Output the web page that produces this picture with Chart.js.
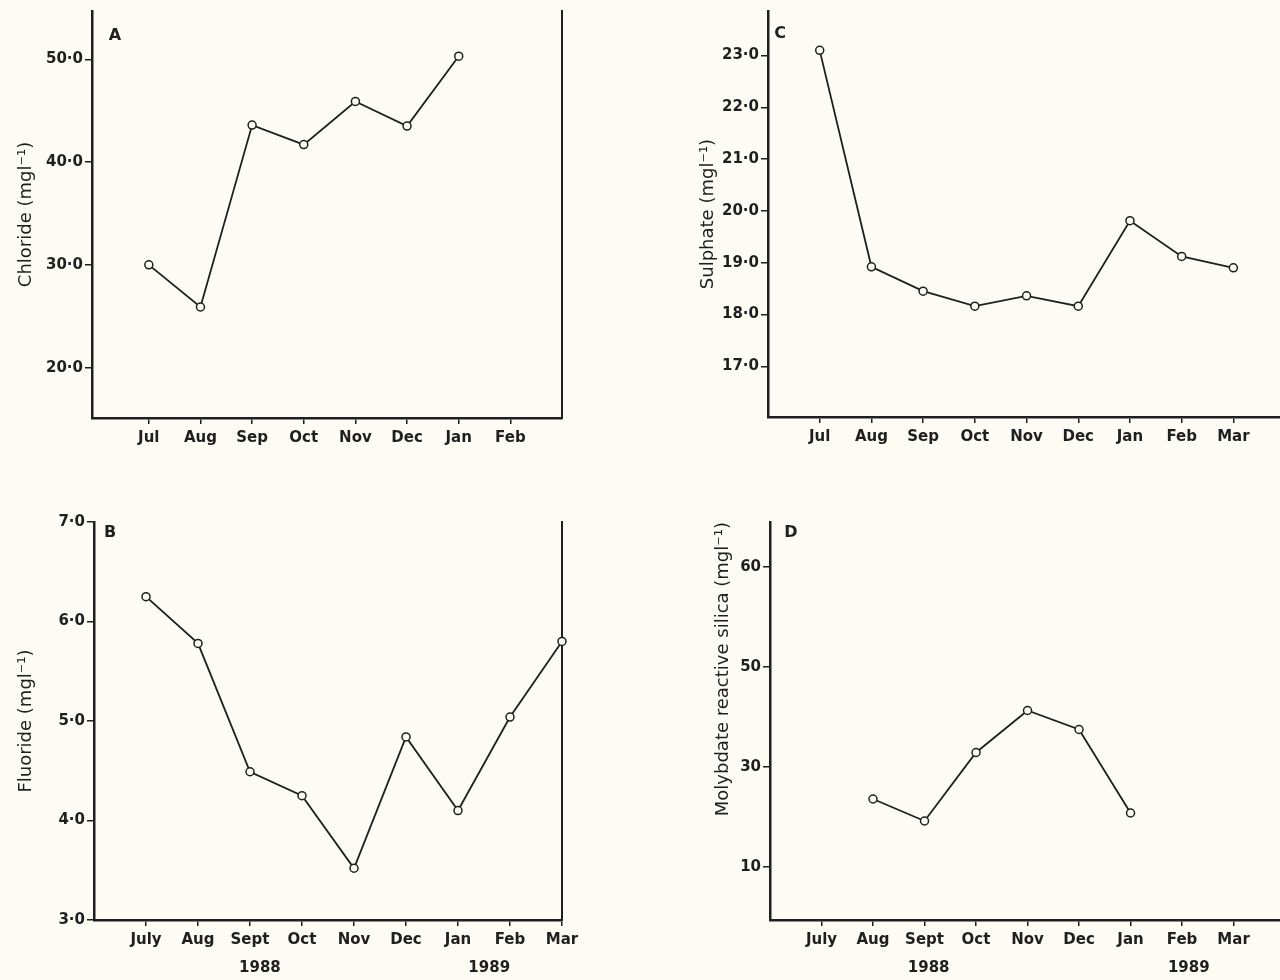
<!DOCTYPE html>
<html>
<head>
<meta charset="utf-8">
<script src="https://cdn.jsdelivr.net/npm/chart.js@4.4.1/dist/chart.umd.min.js"></script>
<style>
  html, body { margin: 0; padding: 0; background: #fcfcf5; }
  body { width: 1280px; height: 980px; position: relative; overflow: hidden; }
  canvas { position: absolute; }
</style>
</head>
<body>
<canvas id="chartA" width="620" height="480" style="left:0;top:0"></canvas>
<canvas id="chartC" width="648" height="480" style="left:640px;top:0"></canvas>
<canvas id="chartB" width="620" height="490" style="left:0;top:490px"></canvas>
<canvas id="chartD" width="648" height="490" style="left:640px;top:490px"></canvas>
<script>
// panel A - chloride
const monthsA = ['Jul', 'Aug', 'Sep', 'Oct', 'Nov', 'Dec', 'Jan', 'Feb'];
const chloride = [30.0, 25.9, 43.6, 41.7, 45.9, 43.5, 50.3, null];
const chlorideTicks = [20, 30, 40, 50];

// panel B - fluoride
const monthsB = ['July', 'Aug', 'Sept', 'Oct', 'Nov', 'Dec', 'Jan', 'Feb', 'Mar'];
const fluoride = [6.25, 5.78, 4.49, 4.25, 3.52, 4.84, 4.10, 5.04, 5.80];
const fluorideTicks = [3, 4, 5, 6, 7];

// panel C - sulphate
const monthsC = ['Jul', 'Aug', 'Sep', 'Oct', 'Nov', 'Dec', 'Jan', 'Feb', 'Mar'];
const sulphate = [23.1, 18.92, 18.45, 18.16, 18.36, 18.16, 19.81, 19.12, 18.9];
const sulphateTicks = [17, 18, 19, 20, 21, 22, 23];

// panel D - molybdate reactive silica (axis labelled 10, 30, 50, 60 at even steps)
const monthsD = ['July', 'Aug', 'Sept', 'Oct', 'Nov', 'Dec', 'Jan', 'Feb', 'Mar'];
const silica = [null, 23.6, 19.2, 32.9, 41.3, 37.5, 20.8, null, null];
const silicaTicks = [10, 30, 50, 60];
const silicaSlotRange = [-0.53, 3.45];

const ink = '#1f1f1f';
const paper = '#fcfcf5';
const tickFont = { family: "'DejaVu Sans', sans-serif", size: 15, weight: 'bold' };
const titleFont = { family: "'DejaVu Sans', sans-serif", size: 18, weight: 'normal' };

// y axis whose labelled ticks are evenly spaced although their values are not
class StepScale extends Chart.LinearScale {
  static id = 'steps';
  buildTicks() {
    return silicaTicks.map(v => ({ value: v }));
  }
  toSlot(v) {
    const k = silicaTicks;
    let i = 0;
    while (i < k.length - 2 && v > k[i + 1]) i++;
    return i + (v - k[i]) / (k[i + 1] - k[i]);
  }
  getPixelForValue(v) {
    if (v === null || v === undefined) return NaN;
    const [lo, hi] = silicaSlotRange;
    return this.getPixelForDecimal((this.toSlot(v) - lo) / (hi - lo));
  }
}
Chart.register(StepScale);

const annotPlugin = {
  id: 'annot',
  afterDraw(chart, args, opts) {
    const { ctx, chartArea } = chart;
    ctx.save();
    ctx.fillStyle = ink;
    ctx.textAlign = 'center';
    ctx.textBaseline = 'middle';
    ctx.font = "bold 16px 'DejaVu Sans', sans-serif";
    ctx.fillText(opts.letter, chartArea.left + opts.dx, chartArea.top + opts.dy);
    ctx.font = "bold 15px 'DejaVu Sans', sans-serif";
    (opts.years || []).forEach(y => {
      ctx.fillText(y.text, chart.scales.x.getPixelForValue(y.at), chartArea.bottom + 48);
    });
    ctx.restore();
  }
};

function dotted(v) {
  return v.toFixed(1).replace('.', '·');
}

function makePanel(id, p) {
  const scales = {
    x: {
      type: 'linear',
      min: p.xMin,
      max: p.xMax,
      afterBuildTicks: s => { s.ticks = p.months.map((m, i) => ({ value: i })); },
      afterFit: s => { s.height = p.xHeight; },
      ticks: { callback: v => p.months[v] ?? '', font: tickFont, color: ink, padding: 5, maxRotation: 0, autoSkip: false },
      grid: { drawOnChartArea: false, tickLength: 6, color: ink, lineWidth: 1.5 },
      border: { color: ink, width: 2.5 }
    },
    y: {
      type: p.yType || 'linear',
      min: p.yMin,
      max: p.yMax,
      afterBuildTicks: s => { s.ticks = p.yTicks.map(v => ({ value: v })); },
      afterFit: s => { s.width = p.yWidth; },
      ticks: { callback: p.yFormat, font: tickFont, color: ink, padding: 2, autoSkip: false },
      grid: { drawOnChartArea: false, tickLength: 7, color: ink, lineWidth: 1.5 },
      border: { color: ink, width: 2.5 },
      title: {
        display: true, text: p.title, align: p.titleAlign || 'center',
        font: titleFont, color: ink, padding: { top: 5, bottom: 0 }
      }
    }
  };
  if (p.rightFrame) {
    scales.yR = {
      type: 'linear',
      position: 'right',
      afterFit: s => { s.width = 0; },
      ticks: { display: false },
      grid: { display: false },
      border: { display: true, color: ink, width: 2 }
    };
  }

  return new Chart(document.getElementById(id), {
    type: 'line',
    data: {
      datasets: [{
        data: p.values.map((v, i) => ({ x: i, y: v })),
        borderColor: ink,
        borderWidth: 1.8,
        tension: 0,
        pointRadius: 4,
        pointBorderWidth: 1.5,
        pointBorderColor: ink,
        pointBackgroundColor: paper,
        clip: false
      }]
    },
    options: {
      responsive: false,
      animation: false,
      events: [],
      layout: { padding: p.padding },
      plugins: {
        legend: { display: false },
        tooltip: { enabled: false },
        annot: { letter: p.letter, dx: p.letterAt[0], dy: p.letterAt[1], years: p.years }
      },
      scales: scales
    },
    plugins: [annotPlugin]
  });
}

makePanel('chartA', {
  months: monthsA, values: chloride, yTicks: chlorideTicks, yFormat: dotted,
  xMin: -1.1, xMax: 8, yMin: 15.1, yMax: 54.7,
  yWidth: 81, xHeight: 62, padding: { left: 11, top: 5, right: 58, bottom: 0 },
  title: 'Chloride (mgl⁻¹)', letter: 'A', letterAt: [23, 25], rightFrame: true
});

makePanel('chartB', {
  months: monthsB, values: fluoride, yTicks: fluorideTicks, yFormat: dotted,
  xMin: -1, xMax: 8, yMin: 3, yMax: 7,
  yWidth: 83, xHeight: 60, padding: { left: 11, top: 32, right: 58, bottom: 0 },
  title: 'Fluoride (mgl⁻¹)', letter: 'B', letterAt: [16, 11], rightFrame: true,
  years: [{ text: '1988', at: 2.19 }, { text: '1989', at: 6.6 }]
});

makePanel('chartC', {
  months: monthsC, values: sulphate, yTicks: sulphateTicks, yFormat: dotted,
  xMin: -1, xMax: 8.95, yMin: 16.02, yMax: 23.86,
  yWidth: 75, xHeight: 63, padding: { left: 53, top: 7, right: 0, bottom: 0 },
  title: 'Sulphate (mgl⁻¹)', letter: 'C', letterAt: [12, 23]
});

makePanel('chartD', {
  months: monthsD, values: silica, yTicks: silicaTicks, yFormat: v => String(v),
  yType: 'steps', xMin: -1, xMax: 8.95,
  yWidth: 62, xHeight: 60, padding: { left: 68, top: 32, right: 0, bottom: 0 },
  title: 'Molybdate reactive silica (mgl⁻¹)', titleAlign: 'end', letter: 'D', letterAt: [21, 11],
  years: [{ text: '1988', at: 2.08 }, { text: '1989', at: 7.13 }]
});
</script>
</body>
</html>
